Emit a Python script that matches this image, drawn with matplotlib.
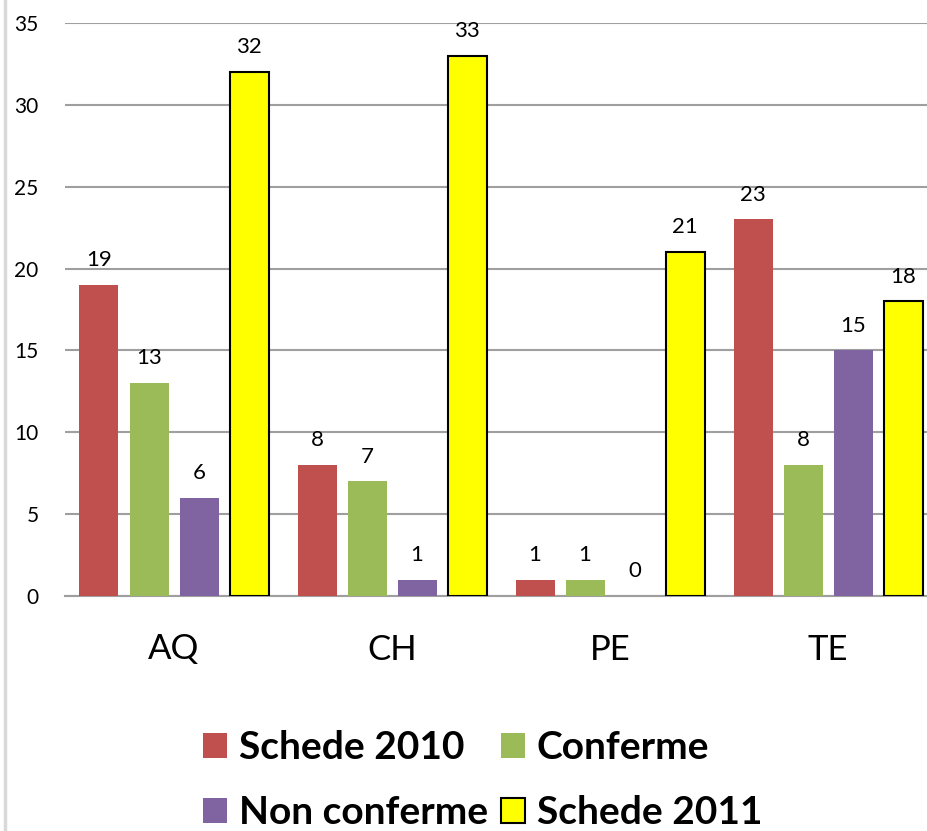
import matplotlib
matplotlib.use("Agg")
import matplotlib.pyplot as plt
from matplotlib.lines import Line2D
import numpy as np

# dati
categories = ["AQ", "CH", "PE", "TE"]
schede_2010 = [19, 8, 1, 23]
conferme = [13, 7, 1, 8]
non_conferme = [6, 1, 0, 15]
schede_2011 = [32, 33, 21, 18]

series_names = ["Schede 2010", "Conferme", "Non conferme", "Schede 2011"]
series_values = [schede_2010, conferme, non_conferme, schede_2011]
series_colors = ["#C0504D", "#9BBB59", "#8064A2", "#FFFF00"]
series_edges = ["none", "none", "none", "black"]

plt.rcParams["font.family"] = ["Lato", "DejaVu Sans"]

W, H, DPI = 927, 831, 100
fig = plt.figure(figsize=(W / DPI, H / DPI), dpi=DPI)
fig.patch.set_facecolor("white")

# area del grafico (in pixel), il lato destro esce dall'immagine
left, right, top, bottom = 65, 937, 23, 596
ax = fig.add_axes([left / W, 1 - bottom / H, (right - left) / W, (bottom - top) / H])

x = np.arange(len(categories))
step = 50 / 218
width = 39 / 218

for i, (name, vals, col, ec) in enumerate(zip(series_names, series_values, series_colors, series_edges)):
    pos = x + (i - 1.5) * step
    ax.bar(pos, vals, width=width, color=col, edgecolor=ec,
           linewidth=1.5 if ec != "none" else 0, label=name, zorder=3)
    for xp, v in zip(pos, vals):
        ax.annotate(str(v), (xp, v), xytext=(0, 13.5), textcoords="offset points",
                    ha="center", va="baseline", fontsize=16, color="black")

ax.set_xlim(-0.5, 3.5)
ax.set_ylim(0, 35)
ax.set_yticks(range(0, 36, 5))
ax.set_xticks(x)
ax.set_xticklabels(categories, fontsize=25)
ax.tick_params(axis="y", length=0, pad=19, labelsize=15)
ax.tick_params(axis="x", length=0, pad=27)

ax.grid(axis="y", color="#9F9F9F", linewidth=1.5, zorder=0)
ax.set_axisbelow(True)
for s in ["top", "right", "left"]:
    ax.spines[s].set_visible(False)
ax.spines["bottom"].set_color("#9F9F9F")
ax.spines["bottom"].set_linewidth(1.5)

# legenda riga per riga (matplotlib riempie per colonne)
handles, labels = ax.get_legend_handles_labels()
order = [0, 2, 1, 3]
fig.legend([handles[k] for k in order], [labels[k] for k in order],
           loc="upper left", bbox_to_anchor=(203 / W, 1 - 730 / H), ncol=2,
           frameon=False, borderpad=0, borderaxespad=0,
           prop={"weight": "bold", "size": 28},
           handlelength=0.62, handleheight=0.62, handletextpad=0.3,
           columnspacing=0.33, labelspacing=0.78)

# bordo sinistro dell'area del grafico
fig.add_artist(Line2D([5 / W, 5 / W], [0, 1], transform=fig.transFigure,
                      color="#D9D9D9", linewidth=2.5))

fig.savefig("out.png", dpi=DPI, facecolor="white")
